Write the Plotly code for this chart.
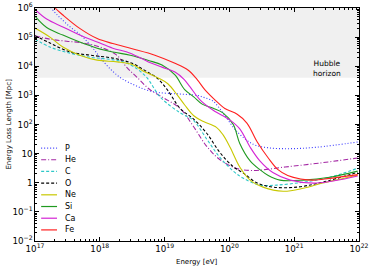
import math
import plotly.graph_objects as go

# ---- data (log10 E [eV], log10 L [Mpc]) ----
P_logE  = [17.0, 17.25, 17.49, 17.74, 17.9, 18.1, 18.31, 18.51, 18.7, 18.9, 19.2, 19.5, 19.62, 19.75, 19.9, 20.12, 20.37, 20.6, 20.94, 21.35, 21.98]
P_logL  = [6.9, 6.0, 5.45, 5.0, 4.6, 4.05, 3.62, 3.38, 3.2, 3.1, 3.05, 3.0, 2.92, 2.8, 2.4, 1.75, 1.32, 1.2, 1.17, 1.22, 1.4]

He_logE = [17.0, 17.23, 17.49, 17.74, 18.0, 18.25, 18.42, 18.57, 18.77, 18.98, 19.24, 19.44, 19.65, 19.85, 20.1, 20.35, 20.86, 21.37, 21.98]
He_logL = [5.05, 4.93, 4.86, 4.80, 4.66, 4.40, 3.95, 3.63, 3.2, 2.92, 2.55, 1.95, 1.25, 0.8, 0.5, 0.42, 0.54, 0.67, 0.85]

C_logE  = [17.0, 17.23, 17.54, 17.85, 18.11, 18.36, 18.55, 18.73, 18.93, 19.24, 19.44, 19.65, 19.85, 20.06, 20.21, 20.47, 20.73, 21.14, 21.55, 21.98]
C_logL  = [4.93, 4.66, 4.45, 4.31, 4.25, 4.15, 3.95, 3.6, 2.95, 2.4, 2.15, 1.5, 0.88, 0.4, 0.16, -0.08, -0.08, 0.02, 0.19, 0.5]

O_logE  = [17.0, 17.23, 17.54, 17.85, 18.2, 18.5, 18.7, 18.88, 19.04, 19.24, 19.44, 19.65, 19.85, 20.06, 20.21, 20.43, 20.67, 21.04, 21.44, 21.98]
O_logL  = [5.05, 4.8, 4.49, 4.38, 4.28, 4.1, 3.85, 3.6, 3.2, 2.55, 2.2, 1.7, 1.05, 0.55, 0.34, -0.01, -0.15, -0.15, 0.02, 0.36]

Ne_logE = [17.0, 17.23, 17.43, 17.69, 17.96, 18.27, 18.51, 18.7, 18.9, 19.05, 19.2, 19.31, 19.45, 19.6, 19.8, 19.9, 20.01, 20.16, 20.32, 20.52, 20.83, 21.14, 21.44, 21.98]
Ne_logL = [5.31, 5.0, 4.66, 4.38, 4.21, 4.15, 4.05, 3.8, 3.6, 3.4, 3.0, 2.67, 2.3, 2.1, 1.9, 1.65, 1.22, 0.54, 0.09, -0.15, -0.29, -0.19, -0.01, 0.26]

Si_logE = [17.0, 17.18, 17.43, 17.69, 17.96, 18.2, 18.47, 18.75, 18.96, 19.16, 19.31, 19.45, 19.58, 19.75, 19.9, 20.06, 20.16, 20.32, 20.47, 20.6, 20.78, 21.14, 21.55, 21.98]
Si_logL = [5.72, 5.33, 5.07, 4.83, 4.62, 4.49, 4.38, 4.2, 4.04, 3.70, 3.2, 2.95, 2.7, 2.56, 2.4, 2.0, 1.35, 0.75, 0.45, 0.25, 0.09, 0.09, 0.19, 0.40]

Ca_logE = [17.0, 17.18, 17.43, 17.69, 17.96, 18.2, 18.47, 18.75, 18.96, 19.16, 19.3, 19.39, 19.55, 19.75, 20.01, 20.16, 20.32, 20.47, 20.67, 20.94, 21.35, 21.98]
Ca_logL = [5.95, 5.62, 5.35, 5.07, 4.83, 4.62, 4.45, 4.15, 3.97, 3.80, 3.55, 3.3, 2.84, 2.49, 2.15, 1.85, 1.22, 0.75, 0.35, 0.09, -0.01, 0.23]

Fe_logE = [17.0, 17.31, 17.43, 17.69, 17.96, 18.2, 18.5, 18.85, 19.16, 19.36, 19.5, 19.62, 19.78, 19.93, 20.12, 20.27, 20.43, 20.6, 20.75, 20.9, 21.1, 21.3, 21.55, 21.98]
Fe_logL = [6.9, 6.0, 5.76, 5.3, 4.95, 4.78, 4.6, 4.38, 4.1, 3.87, 3.55, 3.2, 2.84, 2.55, 2.35, 2.05, 1.4, 0.85, 0.45, 0.25, 0.13, 0.09, 0.15, 0.28]

names   = ["P", "He", "C", "O", "Ne", "Si", "Ca", "Fe"]
series  = [(P_logE, P_logL), (He_logE, He_logL), (C_logE, C_logL), (O_logE, O_logL),
           (Ne_logE, Ne_logL), (Si_logE, Si_logL), (Ca_logE, Ca_logL), (Fe_logE, Fe_logL)]
colors  = ["#3c3cff", "#a428a4", "#2ec8c8", "#000000", "#c8c800", "#209a20", "#d424d4", "#ff2020"]
dashes  = ["1px,2px", "5px,2px,1px,2px", "3px,2px", "3px,2px", "solid", "solid", "solid", "solid"]

hubble = 4.0e3          # Mpc
E_min, E_max = 1e17, 1e22
L_min, L_max = 1e-2, 1e6

FONT = "DejaVu Sans"

fig = go.Figure()

# Hubble horizon band
fig.add_trace(go.Scatter(
    x=[E_min, E_max, E_max, E_min], y=[hubble, hubble, L_max, L_max],
    fill="toself", fillcolor="#f0f0f0", line=dict(width=0), mode="lines",
    hoverinfo="skip", showlegend=False))

for nm, (le, ll), c, d in zip(names, series, colors, dashes):
    fig.add_trace(go.Scatter(
        x=[10 ** v for v in le], y=[10 ** v for v in ll], name=nm, mode="lines",
        line=dict(color=c, width=1.1, dash=d, shape="spline", smoothing=1.0),
        showlegend=False))

# manual compact legend
shapes = []
annotations = []
y0 = 0.399
step = 0.0502
for i, (nm, c, d) in enumerate(zip(names, colors, dashes)):
    yy = y0 - i * step
    shapes.append(dict(type="line", xref="paper", yref="paper", x0=0.019, x1=0.068,
                       y0=yy, y1=yy, line=dict(color=c, width=1.2, dash=d)))
    annotations.append(dict(xref="paper", yref="paper", x=0.086, y=yy, text=nm,
                            showarrow=False, xanchor="left", yanchor="middle",
                            font=dict(family=FONT, size=8, color="#000")))

annotations.append(dict(xref="x", yref="y", x=21.5, y=math.log10(hubble),
                        text="Hubble<br>horizon", showarrow=False,
                        xanchor="center", yanchor="bottom", yshift=-2,
                        font=dict(family=FONT, size=7.5, color="#000")))

# axis titles
annotations.append(dict(xref="paper", yref="paper", x=0.5, y=-0.09, text="Energy [eV]",
                        showarrow=False, xanchor="center", yanchor="middle",
                        font=dict(family=FONT, size=7, color="#000")))
annotations.append(dict(xref="paper", yref="paper", x=-0.083, y=0.5,
                        text="Energy Loss Length [Mpc]", textangle=-90,
                        showarrow=False, xanchor="center", yanchor="middle",
                        font=dict(family=FONT, size=7, color="#000")))

axis_common = dict(type="log", showgrid=False, zeroline=False, showline=True,
                   linecolor="#000", linewidth=1, mirror="ticks", ticks="inside",
                   ticklen=4, tickcolor="#000", dtick=1, exponentformat="power",
                   automargin=False,
                   tickfont=dict(family=FONT, size=7, color="#000"),
                   minor=dict(ticks="inside", ticklen=2, tickcolor="#000", dtick="D1", showgrid=False))

fig.update_layout(
    width=374, height=269,
    margin=dict(l=35, r=15, t=8, b=28),
    paper_bgcolor="white", plot_bgcolor="white",
    font=dict(family=FONT, size=7, color="#000"),
    showlegend=False,
    shapes=shapes, annotations=annotations,
    xaxis=dict(axis_common, range=[17, 22]),
    yaxis=dict(axis_common, range=[-2, 6]),
)

fig.write_html("out.html", config={"displayModeBar": False},
               post_script="document.body.style.margin='0';document.body.style.overflow='hidden';")
